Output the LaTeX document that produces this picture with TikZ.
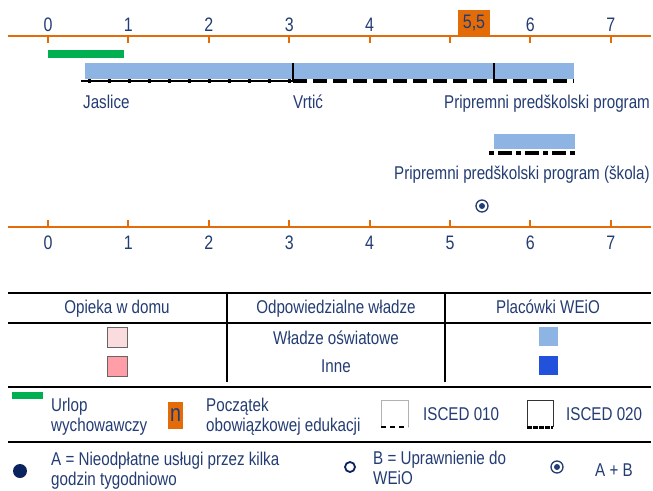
\documentclass[tikz,border=0pt]{standalone}
\usepackage{fontspec}
\setmainfont{Liberation Sans}[FakeStretch=0.82]
\usetikzlibrary{positioning}
\definecolor{navy}{HTML}{233C73}
\definecolor{axisorange}{HTML}{E36C09}
\definecolor{leavegreen}{HTML}{00B050}
\definecolor{edublue}{HTML}{8DB4E2}
\definecolor{otherblue}{HTML}{2251DB}
\definecolor{homepink}{HTML}{FBDCDE}
\definecolor{otherpink}{HTML}{FF9EA6}
\definecolor{dotnavy}{HTML}{0B2460}
\tikzset{
  axisline/.style = {draw=axisorange, line width=2.2pt},
  tickmark/.style = {draw=axisorange, line width=2pt},
  yearlbl/.style  = {text=navy, font=\fontsize{19.5}{20}\selectfont, anchor=base, inner sep=0pt},
  lbl/.style      = {text=navy, font=\fontsize{18.5}{19.5}\selectfont, inner sep=0pt, anchor=base west, align=left},
  midlbl/.style   = {lbl, anchor=base, align=center},
  rule/.style     = {draw=black, line width=2pt},
  divider/.style  = {draw=black, line width=1.4pt},
  iscedA/.style   = {draw=black, line width=3.5pt, dash pattern=on 3pt off 17pt},
  iscedB/.style   = {draw=black, line width=3.5pt, dash pattern=on 14pt off 6pt},
  swatch/.style   = {minimum size=20pt, inner sep=0pt},
  orangebox/.style= {fill=axisorange, text=navy, inner sep=0pt},
}
\begin{document}
\begin{tikzpicture}[x=1pt,y=-1pt]
\useasboundingbox (0,0) rectangle (653,490);

% age axes
\node[orangebox, minimum width=32pt, minimum height=26pt,
      font=\fontsize{19.5}{20}\selectfont] (five) at (474,23) {5,5};
\draw[axisline] (8,36) -- (651,36);
\draw[axisline] (8,227) -- (651,227);
\foreach \n in {0,...,7} {
  \draw[tickmark] ({48+80.4*\n},36) -- ++(0,7);
  \draw[tickmark] ({48+80.4*\n},227) -- ++(0,-7);
  \node[yearlbl] (b\n) at ({48+80.4*\n},249) {\n};
}
\foreach \n in {0,...,4,6,7}
  \node[yearlbl] (t\n) at ({48+80.4*\n},31) {\n};

% provision bars
\fill[leavegreen] (48,50) rectangle (124,58);
\fill[edublue] (85,63) rectangle (574,79);
\draw[black, line width=2pt] (81,81) -- (293,81);
\draw[iscedA] (88,81) -- (293,81);
\draw[iscedB] (293,81) -- (574,81);
\draw[divider] (293,63) -- (293,82);
\draw[divider] (494,63) -- (494,82);
\node[lbl] (jas) at (83,108) {Jaslice};
\node[lbl] (vrt) at (293,108) {Vrtić};
\node[lbl] (ppp) at (444,108) {Pripremni predškolski program};

\fill[edublue] (494,134) rectangle (575,149);
\draw[iscedB, dash pattern=on 5pt off 4pt on 14pt off 4pt] (489,153) -- (575,153);
\node[lbl] (pps) at (394,179) {Pripremni predškolski program (škola)};
\node[circle, draw=navy, line width=1.3pt, minimum size=12pt, inner sep=0pt] (ab) at (482,206) {};
\fill[navy] (ab.center) circle (3pt);

% table
\draw[rule] (8,293) -- (651,293);
\draw[rule] (8,323) -- (651,323);
\draw[rule] (8,387) -- (651,387);
\draw[rule] (8,442) -- (651,442);
\draw[rule] (227,293) -- (227,382);
\draw[rule] (445,293) -- (445,382);
\node[midlbl] (home) at (117,313) {Opieka w domu};
\node[midlbl] (auth) at (336,313) {Odpowiedzialne władze};
\node[midlbl] (weio) at (548,313) {Placówki WEiO};
\node[midlbl] (edu) at (336,344) {Władze oświatowe};
\node[midlbl] (oth) at (336,372) {Inne};
\node[swatch, fill=homepink, draw=gray!80!black] (hp1) at (117,337) {};
\node[swatch, fill=otherpink, draw=gray!80!black] (hp2) at (117,366) {};
\node[swatch, fill=edublue, minimum size=19pt] (wb1) at (548,336.5) {};
\node[swatch, fill=otherblue, minimum size=19pt] (wb2) at (548,365.5) {};

% legend (multi-line labels sit on their last baseline)
\fill[leavegreen] (12,392) rectangle (43,399);
\node[lbl] (leave) at (51,431) {Urlop\\wychowawczy};
\node[orangebox, minimum width=15pt, minimum height=27pt,
      font=\fontsize{24}{24}\selectfont] (nbox) at (175.5,415.5) {n};
\node[lbl] (start) at (206,431) {Początek\\obowiązkowej edukacji};
\draw[gray!60, line width=1pt] (381,427) -- (381,400) -- (408,400) -- (408,427);
\draw[black, line width=1.6pt, dash pattern=on 5pt off 4pt] (381,427) -- (408,427);
\node[lbl] (i010) at (423,420) {ISCED 010};
\draw[black!80, line width=1pt] (527,427) -- (527,400) -- (553,400) -- (553,427);
\draw[black, line width=3pt, dash pattern=on 4.5pt off 1.5pt] (527,427) -- (553,427);
\node[lbl] (i020) at (566,420) {ISCED 020};

\node[circle, fill=dotnavy, minimum size=14pt, inner sep=0pt] (freeA) at (20,471) {};
\node[lbl] (descA) at (51,485) {A = Nieodpłatne usługi przez kilka\\godzin tygodniowo};
\node[circle, draw=dotnavy, line width=1.8pt, minimum size=10pt, inner sep=0pt] (rightB) at (350,467) {};
\node[lbl] (descB) at (373,484) {B = Uprawnienie do\\WEiO};
\node[circle, draw=navy, line width=1.3pt, minimum size=12pt, inner sep=0pt] (both) at (557,467) {};
\fill[navy] (both.center) circle (3pt);
\node[lbl] (descAB) at (595,476) {A + B};
\end{tikzpicture}
\end{document}
